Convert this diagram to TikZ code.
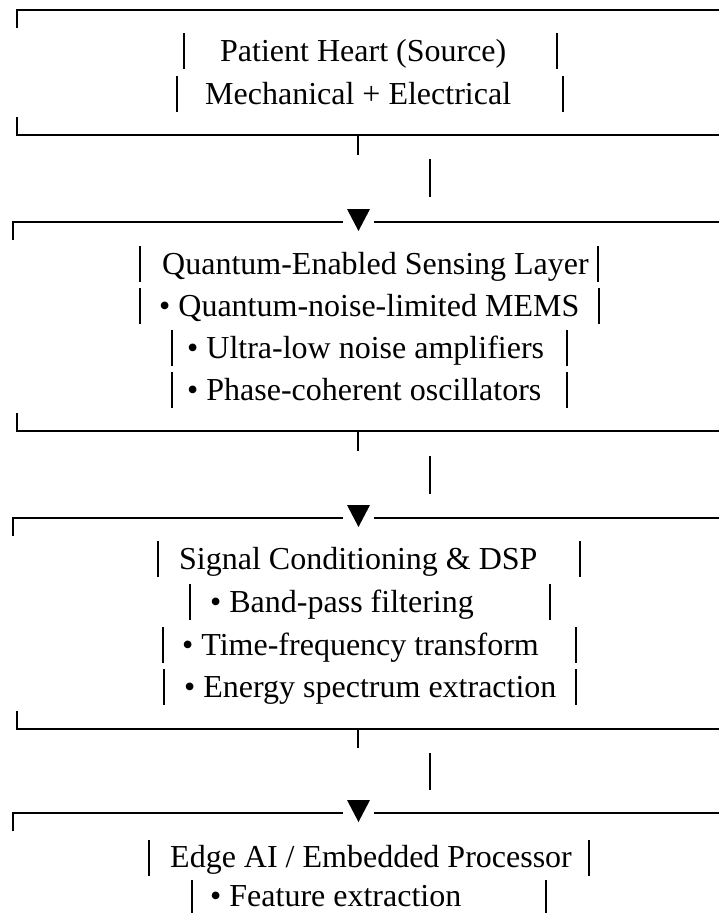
\documentclass[tikz,border=0pt]{standalone}
\usepackage{fontspec}
\setmainfont{Liberation Serif}
\usetikzlibrary{positioning}

\tikzset{
  txt/.style={anchor=base west, inner sep=0pt, font=\fontsize{32}{36}\selectfont},
  rule/.style={line width=2.8pt, line join=miter},
  bar/.style={line width=2pt},
  tip/.style={fill=black}
}

\begin{document}
\begin{tikzpicture}[x=1pt,y=-1pt]
\useasboundingbox (0,0) rectangle (718,913);

% --- box 1: source
\draw[rule] (17,28) -- (17,10) -- (730,10);
\node[txt] (src1) at (220,61) {Patient Heart (Source)};
\draw[bar] (184,33) -- (184,69) (557,33) -- (557,69);
\node[txt] (src2) at (205,104) {Mechanical + Electrical};
\draw[bar] (177,76) -- (177,112) (563,76) -- (563,112);
\draw[rule] (17,117) -- (17,135) -- (730,135);
\coordinate (out1) at (358,135);
\draw[bar] (out1) -- ++(0,20);
\draw[bar] (430,159) -- (430,197);

% --- box 2: sensing
\coordinate (in2) at (358.5,222);
\draw[rule] (13,240) -- (13,222) -- (343,222);
\draw[rule] (374,222) -- (730,222);
\fill[tip] ([xshift=-11.5pt,yshift=13pt]in2) -- ([xshift=11.5pt,yshift=13pt]in2) -- ([yshift=-9pt]in2) -- cycle;
\node[txt] (sen1) at (162,274) {Quantum-Enabled Sensing Layer};
\draw[bar] (140,246) -- (140,282) (598,246) -- (598,282);
\node[txt] (sen2) at (159,316) {• Quantum-noise-limited MEMS};
\draw[bar] (140,288) -- (140,324) (599,288) -- (599,324);
\node[txt] (sen3) at (187,358) {• Ultra-low noise amplifiers};
\draw[bar] (172,330) -- (172,366) (567,330) -- (567,366);
\node[txt] (sen4) at (187,400) {• Phase-coherent oscillators};
\draw[bar] (172,372) -- (172,408) (567,372) -- (567,408);
\draw[rule] (17,413) -- (17,431) -- (730,431);
\coordinate (out2) at (358,431);
\draw[bar] (out2) -- ++(0,20);
\draw[bar] (430,456) -- (430,494);

% --- box 3: conditioning
\coordinate (in3) at (358.5,518);
\draw[rule] (13,536) -- (13,518) -- (343,518);
\draw[rule] (374,518) -- (730,518);
\fill[tip] ([xshift=-11.5pt,yshift=13pt]in3) -- ([xshift=11.5pt,yshift=13pt]in3) -- ([yshift=-9pt]in3) -- cycle;
\node[txt] (dsp1) at (179,569) {Signal Conditioning \& DSP};
\draw[bar] (158,541) -- (158,577) (580,541) -- (580,577);
\node[txt] (dsp2) at (210,612) {• Band-pass filtering};
\draw[bar] (190,584) -- (190,620) (550,584) -- (550,620);
\node[txt] (dsp3) at (182,655) {• Time-frequency transform};
\draw[bar] (163,627) -- (163,663) (576,627) -- (576,663);
\node[txt] (dsp4) at (184,697) {• Energy spectrum extraction};
\draw[bar] (164,669) -- (164,705) (576,669) -- (576,705);
\draw[rule] (17,711) -- (17,729) -- (730,729);
\coordinate (out3) at (358,729);
\draw[bar] (out3) -- ++(0,19);
\draw[bar] (430,753) -- (430,790);

% --- box 4: edge processor
\coordinate (in4) at (358.5,813);
\draw[rule] (13,831) -- (13,813) -- (343,813);
\draw[rule] (374,813) -- (730,813);
\fill[tip] ([xshift=-11.5pt,yshift=13pt]in4) -- ([xshift=11.5pt,yshift=13pt]in4) -- ([yshift=-9pt]in4) -- cycle;
\node[txt] (edge1) at (170,867) {Edge AI / Embedded Processor};
\draw[bar] (149,840) -- (149,876) (589,840) -- (589,876);
\node[txt] (edge2) at (210,906) {• Feature extraction};
\draw[bar] (192,880) -- (192,916) (546,880) -- (546,916);
\end{tikzpicture}
\end{document}
